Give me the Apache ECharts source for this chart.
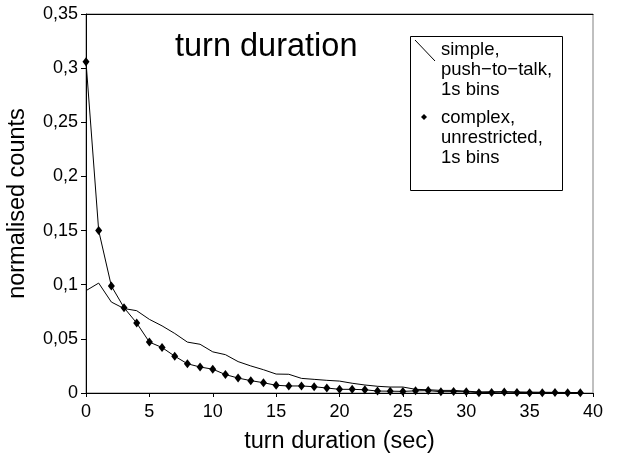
<!DOCTYPE html>
<html>
<head>
<meta charset="utf-8">
<script src="https://cdn.jsdelivr.net/npm/echarts@6/dist/echarts.min.js"></script>
<style>
  html, body { margin: 0; padding: 0; background: #fff; }
  #chart { width: 617px; height: 454px; }
</style>
</head>
<body>
<div id="chart"></div>
<script>
// turn duration histogram, 1s bins
const seconds = [0, 1, 2, 3, 4, 5, 6, 7, 8, 9, 10, 11, 12, 13, 14, 15, 16, 17, 18, 19,
  20, 21, 22, 23, 24, 25, 26, 27, 28, 29, 30, 31, 32, 33, 34, 35, 36, 37, 38, 39]

const simplePtt = [0.0945, 0.1015, 0.084, 0.078, 0.076, 0.068, 0.062, 0.055, 0.047, 0.045,
  0.038, 0.0354, 0.029, 0.025, 0.0215, 0.0175, 0.0173, 0.0135, 0.0126, 0.0117,
  0.011, 0.009, 0.0074, 0.0062, 0.0055, 0.0055, 0.0034, 0.003, 0.0024, 0.0024,
  0.0017, 0.001, 0.0012, 0.0012, 0.001, 0.0008, 0.0007, 0.0006, 0.0005, 0.0004]

const complexUnres = [0.306, 0.150, 0.0988, 0.0788, 0.0646, 0.047, 0.042, 0.034, 0.027, 0.024,
  0.022, 0.017, 0.0138, 0.0114, 0.0095, 0.0071, 0.0065, 0.0065, 0.0058, 0.0046,
  0.0034, 0.0034, 0.003, 0.0018, 0.0017, 0.0015, 0.002, 0.0022, 0.0012, 0.0013,
  0.0012, 0.0003, 0.0005, 0.001, 0.0005, 0.0003, 0.0003, 0.0004, 0.0003, 0.0003]

const legendSimple = ['simple,', 'push−to−talk,', '1s bins']
const legendComplex = ['complex,', 'unrestricted,', '1s bins']

const FONT = '"Liberation Sans", Arial, sans-serif'

const chart = echarts.init(document.getElementById('chart'))

function fmtComma(v) {
  return String(+v.toFixed(2)).replace('.', ',')
}

function legendText(lines, x, y0, step) {
  return lines.map((s, i) => ({
    type: 'text',
    left: x,
    top: y0 + i * step,
    z: 11,
    style: { text: s, font: '18.5px ' + FONT, fill: '#000' },
  }))
}

const option = {
  animation: false,
  backgroundColor: '#fff',
  title: {
    text: 'turn duration',
    left: 175,
    top: 31,
    padding: 0,
    textStyle: { fontFamily: FONT, fontSize: 32.5, fontWeight: 'normal', color: '#000' },
  },
  grid: {
    left: 86,
    right: 24,
    top: 14,
    bottom: 61,
    outerBoundsMode: 'none',
    containLabel: false,
    show: true,
    borderColor: '#808080',
    borderWidth: 1,
  },
  xAxis: [
    {
      type: 'value',
      min: 0,
      max: 40,
      interval: 5,
      name: 'turn duration (sec)',
      nameLocation: 'middle',
      nameGap: 37,
      nameTextStyle: { fontFamily: FONT, fontSize: 23.5, color: '#000' },
      axisLine: { lineStyle: { color: '#000', width: 1 } },
      axisTick: { show: true, length: 4, lineStyle: { color: '#000' } },
      axisLabel: { fontFamily: FONT, fontSize: 18, color: '#000', margin: 10 },
      splitLine: { show: false },
    },
    {
      type: 'value',
      position: 'top',
      min: 0,
      max: 40,
      axisLine: { lineStyle: { color: '#000', width: 1 } },
      axisTick: { show: false },
      axisLabel: { show: false },
      splitLine: { show: false },
    },
  ],
  yAxis: {
    type: 'value',
    min: 0,
    max: 0.35,
    interval: 0.05,
    name: 'normalised counts',
    nameLocation: 'middle',
    nameGap: 56,
    nameTextStyle: { fontFamily: FONT, fontSize: 23.5, color: '#000' },
    axisLine: { show: true, lineStyle: { color: '#000', width: 1 } },
    axisTick: { show: true, length: 5, lineStyle: { color: '#000' } },
    axisLabel: { fontFamily: FONT, fontSize: 18, color: '#000', margin: 8, formatter: fmtComma },
    splitLine: { show: false },
  },
  series: [
    {
      name: 'simple',
      type: 'line',
      data: seconds.map((s, i) => [s, simplePtt[i]]),
      showSymbol: false,
      lineStyle: { color: '#000', width: 1 },
      z: 2,
    },
    {
      name: 'complex',
      type: 'line',
      data: seconds.map((s, i) => [s, complexUnres[i]]),
      symbol: 'diamond',
      symbolSize: [7, 9],
      itemStyle: { color: '#000' },
      lineStyle: { color: '#000', width: 1 },
      z: 3,
    },
  ],
  graphic: [
    {
      type: 'rect',
      shape: { x: 410.5, y: 36.5, width: 152, height: 154 },
      style: { fill: '#fff', stroke: '#000', lineWidth: 1 },
      z: 10,
    },
    {
      type: 'line',
      shape: { x1: 415, y1: 40, x2: 435, y2: 61 },
      style: { stroke: '#000', lineWidth: 1 },
      z: 11,
    },
    {
      type: 'polygon',
      shape: { points: [[424, 114], [427, 117], [424, 120], [421, 117]] },
      style: { fill: '#000' },
      z: 11,
    },
    ...legendText(legendSimple, 441, 40, 20),
    ...legendText(legendComplex, 441, 108, 20),
  ],
}

chart.setOption(option)
</script>
</body>
</html>
